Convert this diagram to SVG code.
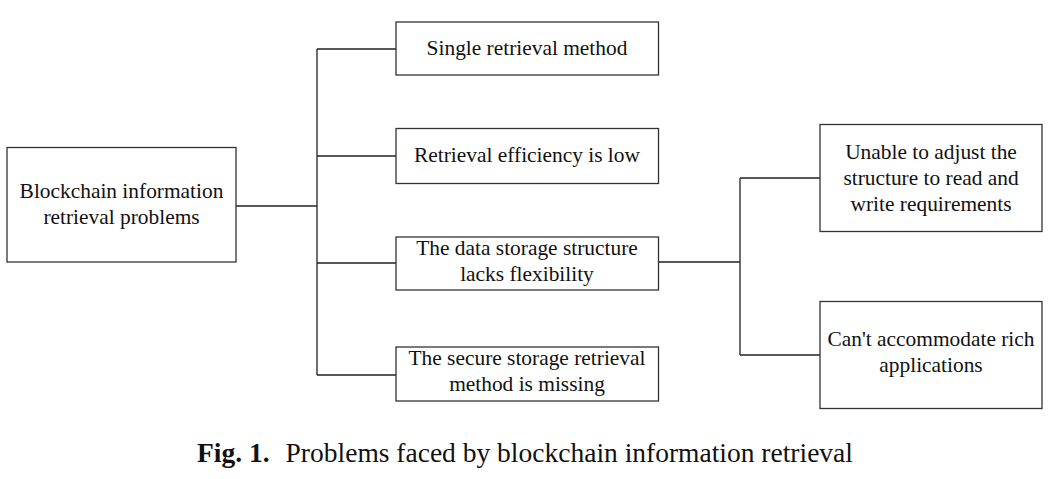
<svg xmlns="http://www.w3.org/2000/svg" width="1055" height="479" viewBox="0 0 1055 479">
<style>
rect.box{fill:#fff;stroke:#333;stroke-width:1.3}
.c{fill:none;stroke:#222;stroke-width:1.3}
text{font-family:"Liberation Serif","Times New Roman",serif;font-size:21.4px;fill:#111;text-anchor:middle}
text.cap{font-size:27.5px;text-anchor:start}
</style>
<rect width="1055" height="479" fill="#fff"/>
<g id="connectors">
<path class="c" d="M236,206H317M317,49V375M317,49H396M317,156H396M317,263H396M317,375H396"/>
<path class="c" d="M658,262H740M740,178V355M740,178H820M740,355H820"/>
</g>
<g id="root"><rect class="box" x="7" y="147.5" width="229" height="114.5"/>
<text x="121.5" y="198">Blockchain information</text><text x="121.5" y="224">retrieval problems</text></g>
<g id="n1"><rect class="box" x="396" y="22" width="262.5" height="53"/>
<text x="527" y="55">Single retrieval method</text></g>
<g id="n2"><rect class="box" x="396" y="128.5" width="262.5" height="55"/>
<text x="527" y="162">Retrieval efficiency is low</text></g>
<g id="n3"><rect class="box" x="396" y="237" width="262.5" height="53"/>
<text x="527" y="255">The data storage structure</text><text x="527" y="281">lacks flexibility</text></g>
<g id="n4"><rect class="box" x="396" y="347" width="262.5" height="54"/>
<text x="527" y="365">The secure storage retrieval</text><text x="527" y="391">method is missing</text></g>
<g id="n5"><rect class="box" x="820" y="124.5" width="222" height="107"/>
<text x="931" y="159">Unable to adjust the</text><text x="931" y="185">structure to read and</text><text x="931" y="211">write requirements</text></g>
<g id="n6"><rect class="box" x="820" y="301.5" width="222" height="107"/>
<text x="931" y="346">Can't accommodate rich</text><text x="931" y="372">applications</text></g>
<text class="cap" x="197" y="462"><tspan font-weight="bold">Fig. 1.</tspan><tspan dx="16">Problems faced by blockchain information retrieval</tspan></text>
</svg>
